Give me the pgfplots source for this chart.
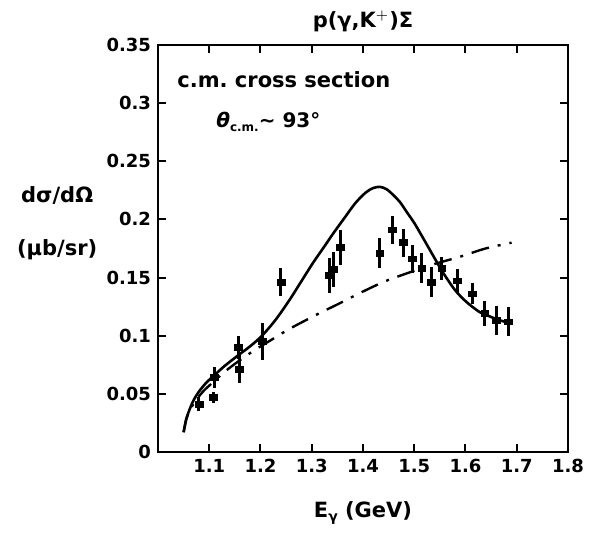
\documentclass[border=0pt]{standalone}
\usepackage{pgfplots}
\pgfplotsset{compat=1.18}
\usepackage{fontspec}
\setmainfont{DejaVu Sans}

\begin{document}
\begin{tikzpicture}
\useasboundingbox (0,0) rectangle (300pt,276pt);
\begin{axis}[
    at={(79pt,50pt)}, anchor=south west,
    scale only axis, width=205pt, height=203.5pt,
    xmin=1.0, xmax=1.8, ymin=0, ymax=0.35,
    xtick={1.1,1.2,1.3,1.4,1.5,1.6,1.7,1.8},
    xticklabels={1.1,1.2,1.3,1.4,1.5,1.6,1.7,1.8},
    ytick={0,0.05,0.1,0.15,0.2,0.25,0.3,0.35},
    yticklabels={0,0.05,0.1,0.15,0.2,0.25,0.3,0.35},
    tick align=inside, major tick length=4pt,
    axis line style={line width=1.1pt},
    every tick/.style={line width=1pt, black},
    tick label style={font=\bfseries\fontsize{9}{10}\selectfont},
    /pgf/number format/assume math mode=true,
    clip=false,
]
% model curves
\addplot[black, line width=1.3pt, smooth] coordinates {
    (1.050,0.017) (1.055,0.028) (1.062,0.037) (1.070,0.045) (1.080,0.052)
    (1.095,0.060) (1.110,0.066) (1.130,0.074) (1.159,0.084) (1.180,0.091)
    (1.203,0.100) (1.230,0.114) (1.257,0.131) (1.280,0.147) (1.303,0.163)
    (1.325,0.177) (1.342,0.188) (1.365,0.202) (1.385,0.214) (1.405,0.223)
    (1.420,0.227) (1.433,0.228) (1.446,0.226) (1.459,0.221) (1.472,0.215)
    (1.486,0.206) (1.500,0.197) (1.512,0.188) (1.525,0.178) (1.538,0.168)
    (1.551,0.158) (1.564,0.149) (1.580,0.139) (1.597,0.131) (1.613,0.125)
    (1.629,0.120) (1.645,0.117) (1.662,0.114) (1.677,0.112) (1.692,0.111)
};
\addplot[black, line width=1.2pt, smooth,
    dash pattern=on 9pt off 4.5pt on 1.5pt off 4.5pt] coordinates {
    (1.050,0.017) (1.055,0.028) (1.062,0.036) (1.075,0.045) (1.090,0.053)
    (1.110,0.061) (1.130,0.069) (1.160,0.079) (1.190,0.088) (1.227,0.098)
    (1.257,0.106) (1.309,0.118) (1.355,0.128) (1.400,0.138) (1.450,0.148)
    (1.535,0.161) (1.590,0.168) (1.639,0.175) (1.690,0.180)
};
% data
\addplot[black, only marks, mark=square*, mark size=1.4pt,
    mark options={xscale=1.4},
    error bars/.cd, y dir=both, y explicit,
    error bar style={line width=1.5pt}, error mark=none]
  coordinates {
    (1.080,0.041) +- (0,0.006)
    (1.108,0.047) +- (0,0.005)
    (1.110,0.064) +- (0,0.009)
    (1.157,0.090) +- (0,0.010)
    (1.159,0.071) +- (0,0.012)
    (1.203,0.095) +- (0,0.016)
    (1.240,0.146) +- (0,0.012)
    (1.335,0.152) +- (0,0.015)
    (1.343,0.157) +- (0,0.015)
    (1.356,0.176) +- (0,0.015)
    (1.433,0.171) +- (0,0.013)
    (1.458,0.191) +- (0,0.012)
    (1.479,0.180) +- (0,0.012)
    (1.497,0.166) +- (0,0.012)
    (1.515,0.158) +- (0,0.013)
    (1.533,0.146) +- (0,0.013)
    (1.554,0.158) +- (0,0.010)
    (1.585,0.147) +- (0,0.010)
    (1.613,0.136) +- (0,0.009)
    (1.638,0.119) +- (0,0.011)
    (1.661,0.113) +- (0,0.0125)
    (1.683,0.112) +- (0,0.0125)
};
% texts
\node[font=\bfseries\fontsize{10.5}{12}\selectfont] at (axis description cs:0.5,1.057) {p(γ,K$^{+}$)Σ};
\node[anchor=west, font=\bfseries\fontsize{10.5}{12}\selectfont] at (axis description cs:0.03,0.914) {c.m.\ cross section};
\node[anchor=west, font=\bfseries\fontsize{10}{12}\selectfont] at (axis description cs:0.125,0.811)
    {\textit{θ}\raisebox{-0.35ex}{\fontsize{6}{7}\selectfont c.m.}∼ 93°};
\node[font=\bfseries\fontsize{10.5}{12}\selectfont] at (axis description cs:-0.246,0.631) {dσ/dΩ};
\node[font=\bfseries\fontsize{10.5}{12}\selectfont] at (axis description cs:-0.246,0.496) {(μb/sr)};
\node[font=\bfseries\fontsize{10.5}{12}\selectfont] at (axis description cs:0.5,-0.150)
    {E\raisebox{-0.4ex}{\fontsize{7}{8}\selectfont γ} (GeV)};
\end{axis}
\end{tikzpicture}
\end{document}
